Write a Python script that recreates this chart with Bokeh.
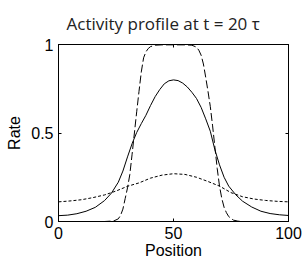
from bokeh.plotting import figure
from bokeh.models import LinearAxis, FixedTicker, Range1d
from bokeh.embed import file_html
from bokeh.resources import INLINE

# ---- data ----
pos_solid = [0, 4, 8, 12, 16, 20, 23, 26, 28, 30, 32, 34, 36, 38, 40, 42, 44, 46, 48, 50,
             52, 54, 56, 58, 60, 62, 64, 66, 68, 70, 72, 74, 77, 80, 84, 88, 92, 96, 100]
rate_solid = [0.033, 0.036, 0.044, 0.058, 0.080, 0.118, 0.160, 0.222, 0.285, 0.365, 0.440,
              0.503, 0.553, 0.600, 0.655, 0.705, 0.745, 0.778, 0.795, 0.800,
              0.796, 0.782, 0.760, 0.730, 0.695, 0.645, 0.580, 0.510, 0.405, 0.320, 0.250,
              0.200, 0.152, 0.115, 0.082, 0.058, 0.045, 0.038, 0.034]

pos_wide = [0, 5, 10, 15, 20, 25, 30, 35, 40, 45, 50, 55, 60, 65, 70, 75, 80, 85, 90, 95, 100]
rate_wide = [0.111, 0.116, 0.123, 0.135, 0.150, 0.172, 0.199, 0.218, 0.245, 0.262, 0.270,
             0.266, 0.250, 0.226, 0.200, 0.163, 0.140, 0.127, 0.119, 0.114, 0.111]

pos_narrow = [0, 20, 24, 26, 27, 28, 29, 30, 31, 32, 33, 34, 35, 36, 37, 38, 39, 40, 42, 45,
              50, 55, 58, 60, 61, 62, 63, 64, 65, 66, 67, 68, 69, 70, 71, 72, 73, 74, 76, 78,
              80, 100]
rate_narrow = [0.0, 0.0, 0.003, 0.015, 0.035, 0.070, 0.130, 0.190, 0.265, 0.380, 0.500,
               0.620, 0.735, 0.845, 0.925, 0.958, 0.977, 0.988, 0.996, 0.998,
               0.998, 0.998, 0.996, 0.985, 0.968, 0.940, 0.890, 0.815, 0.735, 0.650, 0.540,
               0.420, 0.300, 0.200, 0.130, 0.080, 0.050, 0.028, 0.008, 0.002, 0.0, 0.0]

x_ticks = [0, 50, 100]
y_ticks = [0, 0.5, 1]

title_text = "Activity profile at t = 20 \u03c4"
x_label = "Position"
y_label = "Rate"

FONT = "Liberation Sans"
TFONT = "Open Sans"

p = figure(width=304, height=261, output_backend="svg", toolbar_location=None,
           x_range=Range1d(0, 100), y_range=Range1d(0, 1),
           min_border_left=58, min_border_right=16, min_border_top=42,
           min_border_bottom=38)
p.xgrid.visible = False
p.ygrid.visible = False
p.outline_line_color = "black"
p.outline_line_width = 1
p.background_fill_color = "white"
p.border_fill_color = "white"

p.line(pos_solid, rate_solid, line_color="black", line_width=1)
p.line(pos_wide, rate_wide, line_color="black", line_width=1, line_dash="3 2")
p.line(pos_narrow, rate_narrow, line_color="black", line_width=1, line_dash="8 3")

def style(ax, labels=True):
    ax.major_tick_in = 3
    ax.major_tick_out = 0
    ax.minor_tick_line_color = None
    ax.axis_line_color = "black"
    ax.major_tick_line_color = "black"
    if labels:
        ax.major_label_text_font = FONT
        ax.major_label_text_font_size = "16px"
        ax.major_label_text_color = "black"
        ax.axis_label_text_font = FONT
        ax.axis_label_text_font_size = "16px"
        ax.axis_label_text_font_style = "normal"
        ax.axis_label_text_color = "black"
    else:
        ax.major_label_text_font_size = "1px"
        ax.major_label_text_color = None
        ax.major_label_standoff = 0

xa = p.xaxis[0]
xa.ticker = FixedTicker(ticks=x_ticks)
style(xa)
xa.major_label_standoff = 5
xa.axis_label = x_label
xa.axis_label_standoff = 0

ya = p.yaxis[0]
ya.ticker = FixedTicker(ticks=y_ticks)
style(ya)
ya.major_label_standoff = 5
ya.axis_label = y_label
ya.axis_label_standoff = 5

top = LinearAxis(ticker=FixedTicker(ticks=x_ticks))
style(top, labels=False)
p.add_layout(top, "above")
right = LinearAxis(ticker=FixedTicker(ticks=y_ticks))
style(right, labels=False)
p.add_layout(right, "right")

p.title.text = title_text
p.title.text_font = TFONT
p.title.text_font_size = "17px"
p.title.text_font_style = "normal"
p.title.text_color = "#222222"
p.title.align = "left"
p.title.offset = 8
p.title.standoff = 19

open("out.html", "w").write(file_html(p, INLINE))
